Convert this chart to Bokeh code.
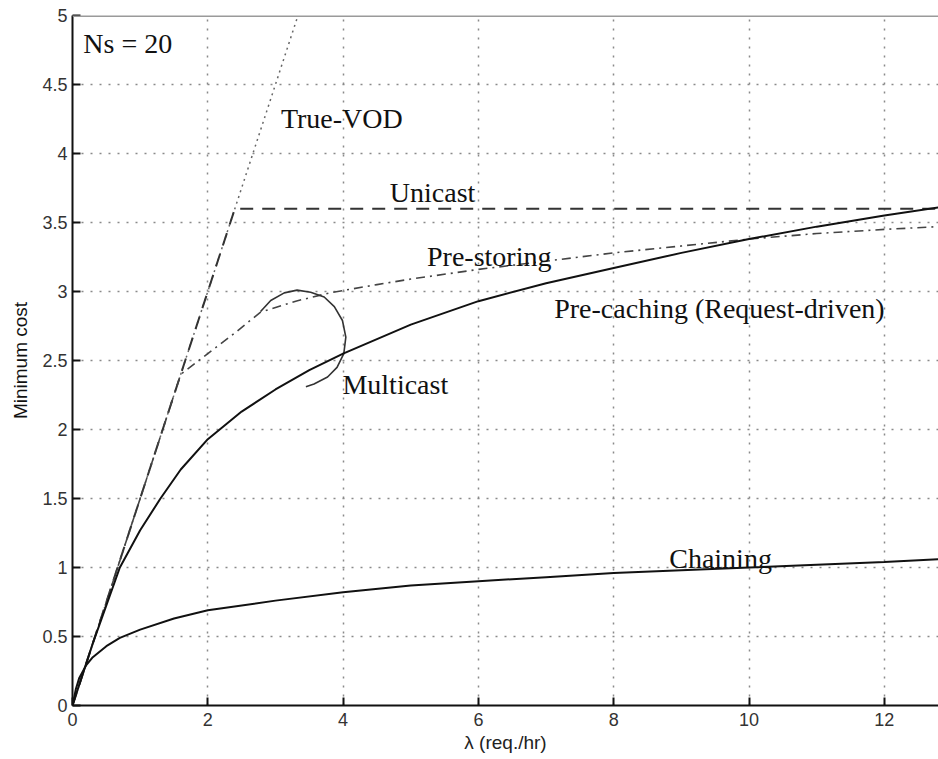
from bokeh.plotting import figure
from bokeh.models import Range1d, FixedTicker, Span
from bokeh.core.properties import value
from bokeh.embed import file_html
from bokeh.resources import INLINE

# ---- data ----
truevod_x = [0, 3.333]
truevod_y = [0, 5.0]

unicast_x = [0, 2.4, 12.8]
unicast_y = [0, 3.6, 3.6]

prestoring_x = [0, 1.6, 2.0, 2.4, 2.78, 3.3, 3.8, 4.5, 5, 6, 7, 8, 9, 10, 11, 12, 12.8]
prestoring_y = [0, 2.4, 2.55, 2.7, 2.85, 2.93, 2.99, 3.05, 3.09, 3.16, 3.22, 3.28, 3.33, 3.38, 3.42, 3.45, 3.47]

precaching_x = [0, 0.3, 0.7, 1.0, 1.3, 1.6, 2, 2.5, 3, 3.5, 4, 5, 6, 7, 8, 9, 10, 11, 12, 12.8]
precaching_y = [0, 0.45, 1.0, 1.27, 1.5, 1.71, 1.93, 2.13, 2.29, 2.43, 2.55, 2.76, 2.93, 3.06, 3.17, 3.28, 3.38, 3.47, 3.55, 3.61]

multicast_x = [2.78, 2.93, 3.13, 3.32, 3.52, 3.72, 3.87, 3.99, 4.04, 4.01, 3.91, 3.77, 3.57, 3.45]
multicast_y = [2.855, 2.935, 2.99, 3.01, 2.995, 2.96, 2.89, 2.79, 2.67, 2.55, 2.45, 2.38, 2.33, 2.31]

chaining_x = [0, 0.05, 0.1, 0.2, 0.3, 0.5, 0.7, 1, 1.5, 2, 3, 4, 5, 6, 7, 8, 9, 10, 11, 12, 12.8]
chaining_y = [0, 0.12, 0.2, 0.29, 0.35, 0.43, 0.49, 0.55, 0.63, 0.69, 0.76, 0.82, 0.87, 0.90, 0.93, 0.96, 0.98, 1.0, 1.02, 1.04, 1.06]

x_ticks = [0, 2, 4, 6, 8, 10, 12]
x_tick_labels = ["0", "2", "4", "6", "8", "10", "12"]
y_ticks = [0, 0.5, 1, 1.5, 2, 2.5, 3, 3.5, 4, 4.5, 5]
y_tick_labels = ["0", "0.5", "1", "1.5", "2", "2.5", "3", "3.5", "4", "4.5", "5"]

annot_text = ["Ns = 20", "True-VOD", "Unicast", "Pre-storing",
              "Pre-caching (Request-driven)", "Multicast", "Chaining"]
annot_x = [0.16, 3.08, 4.69, 5.24, 7.12, 3.99, 8.82]
annot_y = [4.795, 4.255, 3.715, 3.255, 2.875, 2.325, 1.065]

# ---- figure ----
p = figure(width=938, height=759, output_backend="svg", toolbar_location=None,
           x_range=Range1d(0, 12.8), y_range=Range1d(0, 5),
           min_border_left=72, min_border_right=0, min_border_top=15, min_border_bottom=54)
p.outline_line_color = None
p.background_fill_color = "white"
p.border_fill_color = "white"

for ax, ticks, labels in ((p.xaxis[0], x_ticks, x_tick_labels), (p.yaxis[0], y_ticks, y_tick_labels)):
    ax.ticker = FixedTicker(ticks=ticks)
    ax.major_label_overrides = {t: l for t, l in zip(ticks, labels)}
    ax.major_tick_in = 8
    ax.major_tick_out = 0
    ax.minor_tick_line_color = None
    ax.axis_line_color = "#111111"
    ax.axis_line_width = 2
    ax.major_tick_line_color = "#111111"
    ax.major_tick_line_width = 2
    ax.major_label_text_font = "Liberation Sans"
    ax.major_label_text_font_size = "18px"
    ax.major_label_text_color = "#333333"
    ax.axis_label_text_font = "Liberation Sans"
    ax.axis_label_text_font_size = "19px"
    ax.axis_label_text_font_style = "normal"
    ax.axis_label_text_color = "#222222"

p.xaxis.axis_label = "λ (req./hr)"
p.yaxis.axis_label = "Minimum cost"
p.yaxis.axis_label_text_color = "#111111"
p.xaxis.major_label_standoff = 7
p.yaxis.major_label_standoff = 5
p.xaxis.axis_label_standoff = 3
p.yaxis.axis_label_standoff = 8

p.xgrid.ticker = FixedTicker(ticks=x_ticks)
p.ygrid.ticker = FixedTicker(ticks=y_ticks)
for g in (p.xgrid[0], p.ygrid[0]):
    g.grid_line_color = "#8a8a8a"
    g.grid_line_dash = "2 7"
    g.grid_line_width = 1.5

p.add_layout(Span(location=5, dimension="width", line_color="#9a9a9a", line_width=3))

# ---- curves ----
p.line(truevod_x, truevod_y, line_color="#666666", line_width=1.5, line_dash="2 4")
p.line(unicast_x, unicast_y, line_color="#333333", line_width=2, line_dash="13 9")
p.line(prestoring_x, prestoring_y, line_color="#444444", line_width=1.6, line_dash="9 5 2 5")
p.line(multicast_x, multicast_y, line_color="#333333", line_width=1.6)
p.line(precaching_x, precaching_y, line_color="#111111", line_width=2)
p.line(chaining_x, chaining_y, line_color="#111111", line_width=2)

p.text(x=annot_x, y=annot_y, text=annot_text, text_font=value("Liberation Serif"),
       text_font_size="28px", text_color="#111111", text_align="left",
       text_baseline="alphabetic")

open("out.html", "w").write(file_html(p, INLINE))
